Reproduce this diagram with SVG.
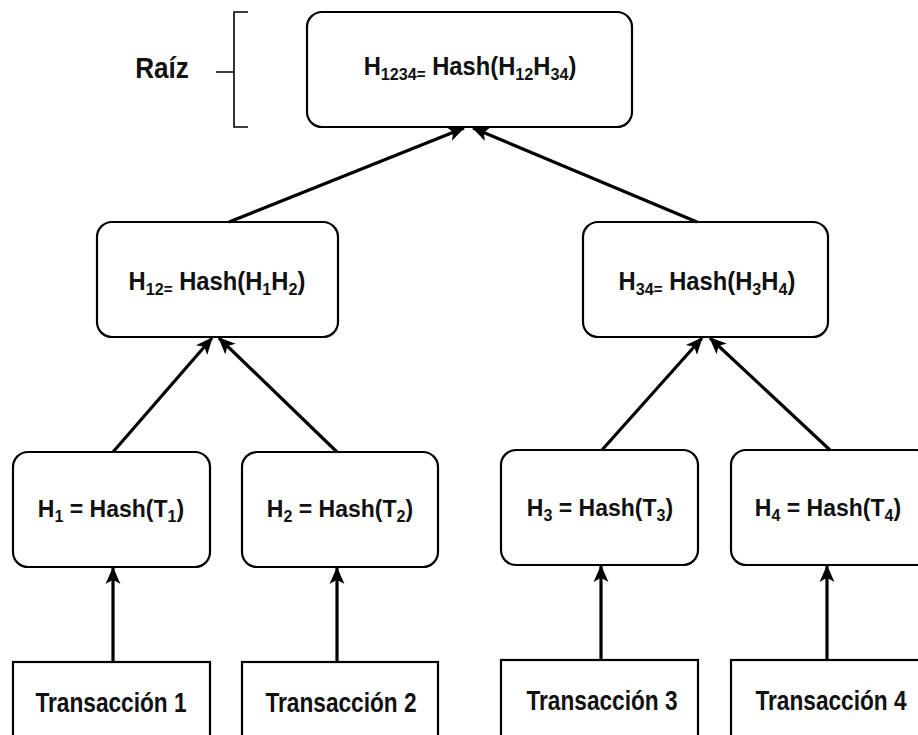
<svg xmlns="http://www.w3.org/2000/svg" width="918" height="735" viewBox="0 0 918 735">
  <defs>
    <marker id="arrow" viewBox="0 0 16 16" refX="15" refY="8" markerWidth="17" markerHeight="17" markerUnits="userSpaceOnUse" orient="auto">
      <path d="M0,1 L16,8 L0,15 L4,8 Z" fill="#000"/>
    </marker>
  </defs>
  <style>
    .node { fill: #fff; stroke: #000; stroke-width: 2.2; }
    .lbl { font-family: "Liberation Sans", Arial, sans-serif; font-weight: bold; fill: #111; text-anchor: middle; }
    .big { font-size: 25px; }
    .mid { font-size: 23px; }
    .tx { font-size: 27px; }
    .sub { font-size: 17px; }
    .sub2 { font-size: 16px; }
    .eq { font-size: 16px; }
    .edge { stroke: #000; stroke-width: 3.2; fill: none; marker-end: url(#arrow); }
    .brace { stroke: #000; stroke-width: 1.6; fill: none; }
  </style>
  <rect width="918" height="735" fill="#fff"/>

  <!-- root bracket label -->
  <g id="raiz">
    <text class="lbl" transform="translate(162,78) scale(0.9,1)" style="font-size:29px">Raíz</text>
    <path class="brace" d="M248,12 H234 V127 H248 M216,72 H234"/>
  </g>

  <g id="h1234">
    <rect class="node" x="307" y="12" width="325" height="115" rx="15"/>
    <text class="lbl big" transform="translate(470,75) scale(0.95,1)">H<tspan class="sub" dy="5">1234</tspan><tspan class="eq">=</tspan><tspan dy="-5"> Hash(H</tspan><tspan class="sub" dy="5">12</tspan><tspan dy="-5">H</tspan><tspan class="sub" dy="5">34</tspan><tspan dy="-5">)</tspan></text>
  </g>

  <g id="h12">
    <rect class="node" x="97" y="222" width="241" height="115" rx="15"/>
    <text class="lbl big" transform="translate(217,290) scale(0.95,1)">H<tspan class="sub" dy="5">12</tspan><tspan class="eq">=</tspan><tspan dy="-5"> Hash(H</tspan><tspan class="sub" dy="5">1</tspan><tspan dy="-5">H</tspan><tspan class="sub" dy="5">2</tspan><tspan dy="-5">)</tspan></text>
  </g>

  <g id="h34">
    <rect class="node" x="583" y="222" width="245" height="115" rx="15"/>
    <text class="lbl big" transform="translate(707,290) scale(0.95,1)">H<tspan class="sub" dy="5">34</tspan><tspan class="eq">=</tspan><tspan dy="-5"> Hash(H</tspan><tspan class="sub" dy="5">3</tspan><tspan dy="-5">H</tspan><tspan class="sub" dy="5">4</tspan><tspan dy="-5">)</tspan></text>
  </g>

  <g id="h1">
    <rect class="node" x="13" y="452" width="197" height="115" rx="15"/>
    <text class="lbl mid" x="111" y="517">H<tspan class="sub2" dy="5">1</tspan><tspan dy="-5"> = Hash(T</tspan><tspan class="sub2" dy="5">1</tspan><tspan dy="-5">)</tspan></text>
  </g>

  <g id="h2">
    <rect class="node" x="242" y="452" width="196" height="115" rx="15"/>
    <text class="lbl mid" x="340" y="517">H<tspan class="sub2" dy="5">2</tspan><tspan dy="-5"> = Hash(T</tspan><tspan class="sub2" dy="5">2</tspan><tspan dy="-5">)</tspan></text>
  </g>

  <g id="h3">
    <rect class="node" x="501" y="450" width="197" height="115" rx="15"/>
    <text class="lbl mid" x="600" y="516">H<tspan class="sub2" dy="5">3</tspan><tspan dy="-5"> = Hash(T</tspan><tspan class="sub2" dy="5">3</tspan><tspan dy="-5">)</tspan></text>
  </g>

  <g id="h4">
    <rect class="node" x="731" y="450" width="200" height="115" rx="15"/>
    <text class="lbl mid" x="828" y="516">H<tspan class="sub2" dy="5">4</tspan><tspan dy="-5"> = Hash(T</tspan><tspan class="sub2" dy="5">4</tspan><tspan dy="-5">)</tspan></text>
  </g>

  <g id="t1">
    <rect class="node" x="13" y="662" width="197" height="90"/>
    <text class="lbl tx" transform="translate(111,712) scale(0.84,1)">Transacción 1</text>
  </g>
  <g id="t2">
    <rect class="node" x="242" y="662" width="196" height="90"/>
    <text class="lbl tx" transform="translate(341,712) scale(0.84,1)">Transacción 2</text>
  </g>
  <g id="t3">
    <rect class="node" x="501" y="660" width="197" height="90"/>
    <text class="lbl tx" transform="translate(602,710) scale(0.84,1)">Transacción 3</text>
  </g>
  <g id="t4">
    <rect class="node" x="731" y="660" width="200" height="90"/>
    <text class="lbl tx" transform="translate(831,710) scale(0.84,1)">Transacción 4</text>
  </g>

  <g id="edges">
    <line class="edge" x1="229" y1="222" x2="464" y2="128"/>
    <line class="edge" x1="697" y1="222" x2="473" y2="128"/>
    <line class="edge" x1="113" y1="452" x2="212" y2="338"/>
    <line class="edge" x1="337" y1="452" x2="219" y2="338"/>
    <line class="edge" x1="602" y1="450" x2="702" y2="338"/>
    <line class="edge" x1="830" y1="450" x2="710" y2="338"/>
    <line class="edge" x1="113" y1="662" x2="113" y2="568"/>
    <line class="edge" x1="337" y1="662" x2="337" y2="568"/>
    <line class="edge" x1="601" y1="660" x2="601" y2="566"/>
    <line class="edge" x1="827" y1="660" x2="827" y2="566"/>
  </g>
</svg>
